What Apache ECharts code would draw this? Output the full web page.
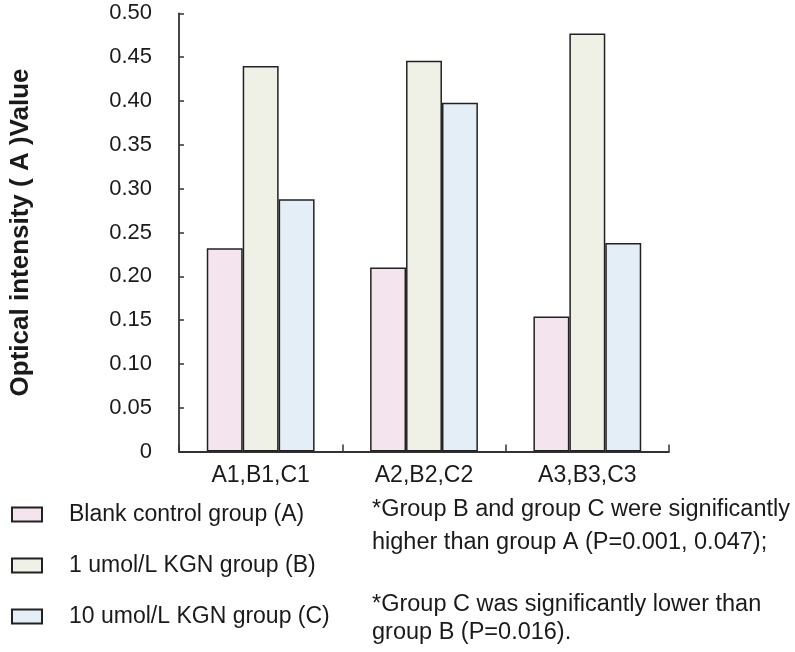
<!DOCTYPE html>
<html>
<head>
<meta charset="utf-8">
<script src="https://cdn.jsdelivr.net/npm/echarts@6/dist/echarts.min.js"></script>
<style>html,body{margin:0;padding:0;background:#fff;}#c{width:795px;height:652px;}</style>
</head>
<body>
<div id="c"></div>
<script>
var categories = ['A1,B1,C1', 'A2,B2,C2', 'A3,B3,C3'];
var seriesNames = ['Blank control group (A)', '1 umol/L KGN group (B)', '10 umol/L KGN group (C)'];
var groupA = [0.232, 0.210, 0.154];
var groupB = [0.440, 0.446, 0.477];
var groupC = [0.288, 0.398, 0.238];
var yTitle = 'Optical intensity ( A )Value';
var notes = [
  '*Group B and group C were significantly',
  'higher than group A (P=0.001, 0.047);',
  '*Group C was significantly lower than',
  'group B (P=0.016).'
];

var FONT = '"Liberation Sans", Arial, sans-serif';
var TXT = '#1a1a1a';
var colors = ['#f4e4ee', '#eff1e7', '#e3eef7'];
var allVals = [groupA, groupB, groupC];

var chart = echarts.init(document.getElementById('c'));
var series = allVals.map(function (d, i) {
  return {
    name: seriesNames[i],
    type: 'bar',
    data: d,
    barGap: '0%',
    barCategoryGap: '34%',
    itemStyle: { color: colors[i], borderColor: '#222', borderWidth: 1.5 }
  };
});
var noteY = [510, 543, 605, 633];
chart.setOption({
  backgroundColor: '#ffffff',
  animation: false,
  textStyle: { fontFamily: FONT },
  grid: { left: 167, right: 126, top: 13.3, bottom: 200.4, containLabel: false },
  xAxis: {
    type: 'category',
    data: categories,
    axisLine: { lineStyle: { color: '#333', width: 1.8 } },
    axisTick: { show: true, inside: true, length: 7, lineStyle: { color: '#333', width: 1.5 } },
    axisLabel: { color: TXT, fontSize: 23, fontFamily: FONT, margin: 13 }
  },
  yAxis: {
    type: 'value',
    min: 0, max: 0.5, interval: 0.05,
    splitLine: { show: false },
    axisLine: { show: true, lineStyle: { color: '#333', width: 1.8 } },
    axisTick: { show: true, inside: true, length: 5, lineStyle: { color: '#333', width: 1.5 } },
    axisLabel: {
      color: TXT, fontSize: 22, fontFamily: FONT, margin: 27,
      formatter: function (v) { return v === 0 ? '0' : v.toFixed(2); }
    },
    name: yTitle,
    nameLocation: 'middle',
    nameGap: 145,
    nameRotate: 90,
    nameTextStyle: { color: TXT, fontSize: 26, fontWeight: 'bold', fontFamily: FONT }
  },
  legend: {
    orient: 'vertical',
    left: 6,
    top: 498,
    itemWidth: 30,
    itemHeight: 14,
    itemGap: 28,
    icon: 'rect',
    textStyle: { color: TXT, fontSize: 23, fontFamily: FONT, padding: [0, 0, 0, 22] },
    data: seriesNames
  },
  graphic: notes.map(function (t, i) {
    return {
      type: 'text',
      left: 372,
      top: noteY[i] - 12,
      style: { text: t, fill: TXT, font: '23.5px ' + FONT }
    };
  }),
  series: series
});
</script>
</body>
</html>
